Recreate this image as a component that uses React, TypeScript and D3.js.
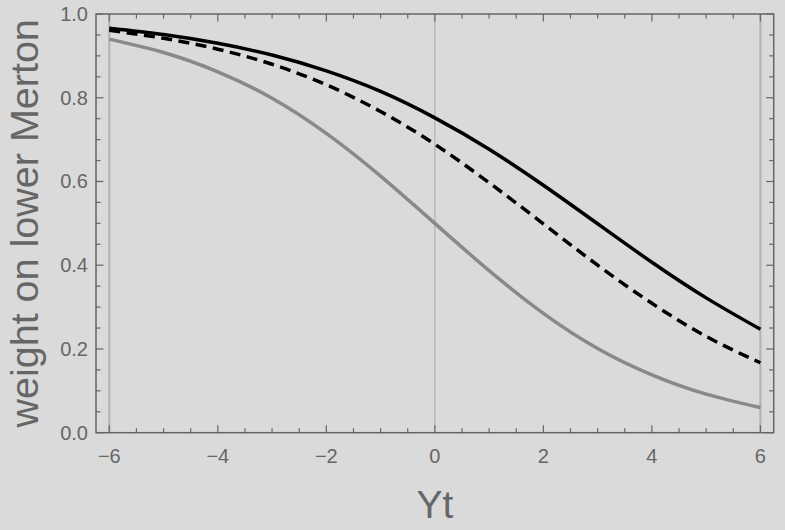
import React from "react";
import * as d3 from "d3";

const xs = [-6, -5, -4, -3, -2, -1, 0, 1, 2, 3, 4, 5, 6];
const solidSeries = [0.966, 0.951, 0.93, 0.902, 0.864, 0.815, 0.752, 0.677, 0.591, 0.499, 0.407, 0.322, 0.247];
const dashedSeries = [0.961, 0.942, 0.916, 0.88, 0.831, 0.767, 0.689, 0.597, 0.499, 0.4, 0.309, 0.23, 0.167];
const graySeries = [0.94, 0.908, 0.862, 0.799, 0.715, 0.613, 0.5, 0.387, 0.285, 0.201, 0.138, 0.092, 0.06];
const xTickLabels = [-6, -4, -2, 0, 2, 4, 6];
const yTickLabels = [0, 0.2, 0.4, 0.6, 0.8, 1.0];
const gridXs = [-6, 0, 6];

const W = 785, H = 530;
const L = 96, R = 773.7, T = 14, B = 432.7;
const FRAME = "#666666";
const FONT = "'Liberation Sans', Arial, sans-serif";

export default function App() {
  const x = d3.scaleLinear().domain([-6.245, 6.245]).range([L, R]);
  const y = d3.scaleLinear().domain([0, 1]).range([B, T]);
  const line = (vals: number[]) =>
    d3.line<number>().x((_, i) => x(xs[i])).y((v) => y(v)).curve(d3.curveNatural)(vals) || "";

  const xMinor = d3.range(-6, 6.01, 0.5);
  const yMinor = d3.range(0, 1.001, 0.05);
  const isMajorX = (v: number) => Math.abs(v / 2 - Math.round(v / 2)) < 1e-6;
  const isMajorY = (v: number) => Math.abs(v / 0.2 - Math.round(v / 0.2)) < 1e-6;

  return (
    <svg width={W} height={H} style={{ position: "absolute", left: 0, top: 0, display: "block" }}>
      <rect x={0} y={0} width={W} height={H} fill="#dadada" />
      {gridXs.map((g) => (
        <line key={g} x1={x(g)} x2={x(g)} y1={T} y2={B} stroke="#b4b4b4" strokeWidth={g === 0 ? 1.3 : 2.2} />
      ))}
      <path d={line(graySeries)} fill="none" stroke="#898989" strokeWidth={3.5} />
      <path d={line(dashedSeries)} fill="none" stroke="#000" strokeWidth={3.5} strokeDasharray="11,6.5" />
      <path d={line(solidSeries)} fill="none" stroke="#000" strokeWidth={3.5} />
      <rect x={L} y={T} width={R - L} height={B - T} fill="none" stroke={FRAME} strokeWidth={1.5} />
      {xMinor.map((v) => {
        const len = isMajorX(v) ? 7.5 : 4.5;
        return (
          <g key={"xt" + v}>
            <line x1={x(v)} x2={x(v)} y1={B} y2={B - len} stroke={FRAME} strokeWidth={1.2} />
            <line x1={x(v)} x2={x(v)} y1={T} y2={T + len} stroke={FRAME} strokeWidth={1.2} />
          </g>
        );
      })}
      {yMinor.map((v) => {
        const len = isMajorY(v) ? 7.5 : 4.5;
        return (
          <g key={"yt" + v}>
            <line x1={L} x2={L + len} y1={y(v)} y2={y(v)} stroke={FRAME} strokeWidth={1.2} />
            <line x1={R} x2={R - len} y1={y(v)} y2={y(v)} stroke={FRAME} strokeWidth={1.2} />
          </g>
        );
      })}
      {xTickLabels.map((v) => (
        <text key={"xl" + v} x={x(v)} y={462.5} textAnchor="middle" fontFamily={FONT} fontSize={20} fill={FRAME}>
          {v < 0 ? "\u2212" + Math.abs(v) : String(v)}
        </text>
      ))}
      {yTickLabels.map((v) => (
        <text key={"yl" + v} x={88} y={y(v) + 7} textAnchor="end" fontFamily={FONT} fontSize={20} fill={FRAME}>
          {v.toFixed(1)}
        </text>
      ))}
      <text x={435} y={518} textAnchor="middle" fontFamily={FONT} fontSize={39} fill={FRAME}>Yt</text>
      <text
        transform={`translate(37.5,${(T + B) / 2}) rotate(-90)`}
        textAnchor="middle"
        fontFamily={FONT}
        fontSize={39.5}
        fill={FRAME}
      >
        weight on lower Merton
      </text>
    </svg>
  );
}
